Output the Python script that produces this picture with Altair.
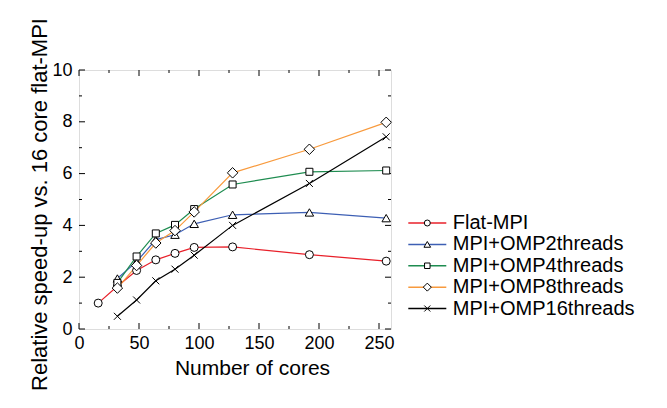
import altair as alt
import pandas as pd

# ---- data ----
cores = [16, 32, 48, 64, 80, 96, 128, 192, 256]
series_names = ["Flat-MPI", "MPI+OMP2threads", "MPI+OMP4threads",
                "MPI+OMP8threads", "MPI+OMP16threads"]
flat_mpi = [1.0, 1.65, 2.26, 2.67, 2.92, 3.15, 3.17, 2.87, 2.62]
omp2 = [None, 1.95, 2.6, 3.45, 3.64, 4.06, 4.41, 4.5, 4.28]
omp4 = [None, 1.78, 2.8, 3.69, 4.02, 4.63, 5.58, 6.07, 6.12]
omp8 = [None, 1.58, 2.45, 3.32, 3.8, 4.52, 6.03, 6.94, 7.98]
omp16 = [None, 0.49, 1.12, 1.86, 2.31, 2.85, 4.0, 5.62, 7.42]

symbol_keys = ["o", "t", "s", "d", "x"]

x_major = [0, 50, 100, 150, 200, 250]
x_minor = [25, 75, 125, 175, 225]
y_major = [0, 2, 4, 6, 8, 10]
y_minor = [1, 3, 5, 7, 9]

# ---- styles ----
colors = ["#e8202a", "#3d5fb4", "#1e8c50", "#f89a3d", "#000000"]
shapes = ["circle", "triangle-up", "square", "diamond", "M-1,-1L1,1M-1,1L1,-1"]
marker_sizes = [64, 72, 49, 110, 49]
legend_marker_sizes = [36, 44, 30, 64, 36]
FONT = "Liberation Sans"
W, H = 312, 259

rows = []
for name, key, vals in zip(series_names, symbol_keys, [flat_mpi, omp2, omp4, omp8, omp16]):
    for c, v in zip(cores, vals):
        if v is not None:
            rows.append({"cores": c, "speedup": v, "series": name, "sym": key})
df = pd.DataFrame(rows)
legend_df = pd.DataFrame({"series": series_names, "sym": symbol_keys})

xscale = alt.Scale(domain=[0, 260], nice=False, zero=False)
yscale = alt.Scale(domain=[0, 10], nice=False, zero=False)
color_scale = alt.Scale(domain=series_names, range=colors)
shape_scale = alt.Scale(domain=symbol_keys, range=shapes)
# legend rows (pixel range of the legend block inside the view)
leg_y = alt.Scale(type="point", domain=series_names, range=[153, 238.5], padding=0)

x_axis = alt.Axis(values=x_major, title="Number of cores", ticks=False, tickSize=0,
                  domain=False, grid=False, labelPadding=5, labelFontSize=18,
                  labelFlush=False,
                  labelFont=FONT, labelColor="black", titleFont=FONT,
                  titleFontSize=21, titleFontWeight="normal", titleColor="black",
                  titleX=173, titleY=45, titleAlign="center",
                  titleBaseline="alphabetic")
y_axis = alt.Axis(values=y_major, title="Relative speed-up vs. 16 core flat-MPI",
                  ticks=False, tickSize=0, domain=False, grid=False,
                  labelPadding=7, labelFontSize=18, labelFont=FONT, labelFlush=False,
                  labelColor="black", titleFont=FONT, titleFontSize=22,
                  titleFontWeight="normal", titleColor="black",
                  titleX=-40, titleY=134, titleAngle=270, titleAlign="center",
                  titleBaseline="middle")

lines = alt.Chart(df).mark_line(strokeWidth=1.2).encode(
    x=alt.X("cores:Q", scale=xscale, axis=x_axis),
    y=alt.Y("speedup:Q", scale=yscale, axis=y_axis),
    color=alt.Color("series:N", scale=color_scale, legend=None),
)

point_layers = []
for key, sz in zip(symbol_keys, marker_sizes):
    point_layers.append(
        alt.Chart(df).transform_filter(alt.datum.sym == key).mark_point(
            filled=False, color="black", fill="white", stroke="black", strokeWidth=1,
            opacity=1, size=sz
        ).encode(x=alt.X("cores:Q", scale=xscale, axis=x_axis),
                 y=alt.Y("speedup:Q", scale=yscale, axis=None),
                 shape=alt.Shape("sym:N", scale=shape_scale, legend=None))
    )


def tick_layer(values, channel, length, side):
    d = pd.DataFrame({"v": values})
    base = alt.Chart(d).mark_rule(color="black", strokeWidth=1)
    if channel == "x":
        enc = dict(x=alt.X("v:Q", scale=xscale, axis=x_axis))
        if side == "bottom":
            enc.update(y=alt.value(H), y2=alt.value(H - length))
        else:
            enc.update(y=alt.value(0), y2=alt.value(length))
    else:
        enc = dict(y=alt.Y("v:Q", scale=yscale, axis=None))
        if side == "left":
            enc.update(x=alt.value(0), x2=alt.value(length))
        else:
            enc.update(x=alt.value(W), x2=alt.value(W - length))
    return base.encode(**enc)


ticks = [
    tick_layer(x_major, "x", 6, "bottom"), tick_layer(x_minor, "x", 3, "bottom"),
    tick_layer(x_major, "x", 6, "top"), tick_layer(x_minor, "x", 3, "top"),
    tick_layer(y_major, "y", 6, "left"), tick_layer(y_minor, "y", 3, "left"),
    tick_layer(y_major, "y", 6, "right"), tick_layer(y_minor, "y", 3, "right"),
]

# ---- legend drawn as marks (line sample + marker + label) ----
LEG_CX = 348.3
leg_lines = alt.Chart(legend_df).mark_rule(strokeWidth=1.5).encode(
    x=alt.value(LEG_CX - 19), x2=alt.value(LEG_CX + 19),
    y=alt.Y("series:N", scale=leg_y, axis=None),
    color=alt.Color("series:N", scale=color_scale, legend=None),
)
leg_marks = []
for key, sz in zip(symbol_keys, legend_marker_sizes):
    leg_marks.append(
        alt.Chart(legend_df).transform_filter(alt.datum.sym == key).mark_point(
            filled=False, color="black", fill="white", stroke="black", strokeWidth=1,
            opacity=1, size=sz
        ).encode(
            x=alt.value(LEG_CX),
            y=alt.Y("series:N", scale=leg_y, axis=None),
            shape=alt.Shape("sym:N", scale=shape_scale, legend=None),
        )
    )
leg_text = alt.Chart(legend_df).mark_text(
    align="left", baseline="middle", font=FONT, fontSize=20, color="black"
).encode(
    x=alt.value(LEG_CX + 25.5),
    y=alt.Y("series:N", scale=leg_y, axis=None),
    text="series:N",
)

chart = alt.layer(lines, *ticks, *point_layers, leg_lines, *leg_marks, leg_text).resolve_scale(
    y="independent"
).properties(
    width=W, height=H,
    autosize=alt.AutoSizeParams(type="none"),
    padding={"left": 71, "top": 62, "right": 268, "bottom": 71},
).configure_view(stroke="black", strokeWidth=1, fill=None).configure(background="white")

chart.save("out.html", embed_options={"renderer": "svg", "actions": False})
